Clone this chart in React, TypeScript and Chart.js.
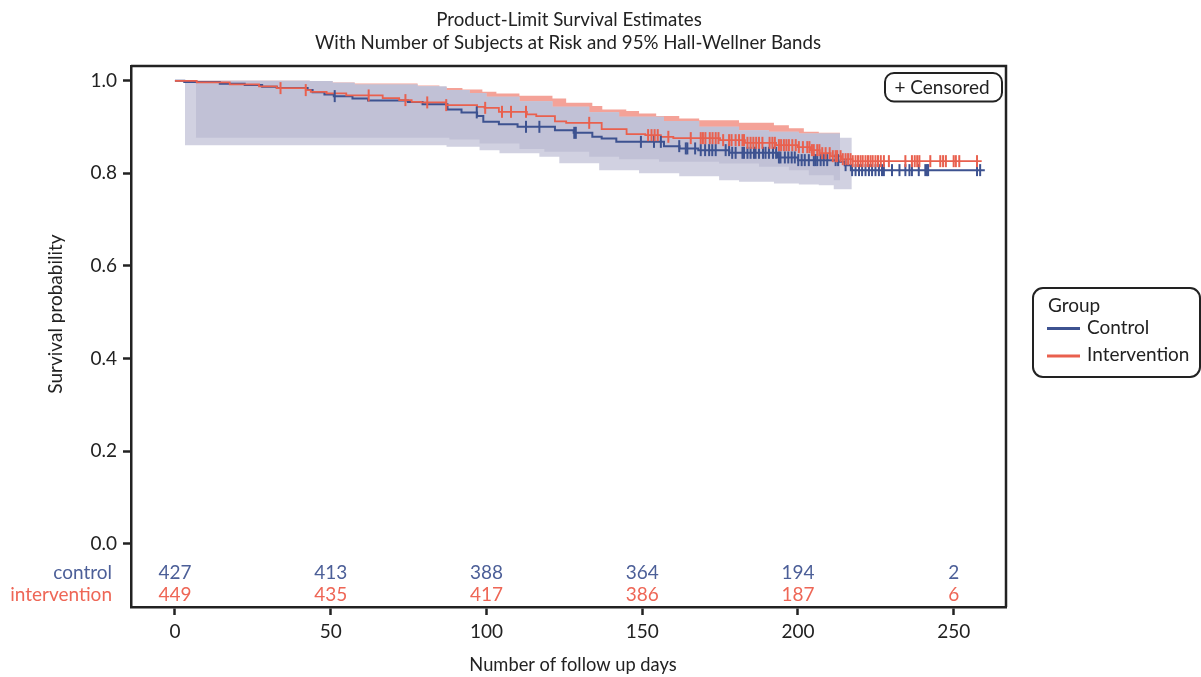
import React, { useEffect, useRef } from "react";
import { Chart, registerables } from "chart.js";
Chart.register(...registerables);

const FONT = "Lato, 'DejaVu Sans', sans-serif";
const FS = 19;
const INK = "#222222";
const CTRL = "#3d5290";
const INTV = "#e9604e";
const CTRL_TXT = "#4c5f98";
const INTV_TXT = "#ee6656";
const SALMON = "#f4a298";
const LAV_LIGHT = "#d1d1e1";
const LAV_DARK = "#c1c1d6";

// Kaplan-Meier step estimates
const ctrlTimes = [0, 3, 14.4, 22.4, 28, 32.7, 42.6, 44.2, 48, 51, 57, 62, 74.8, 79.5, 87.5, 92, 97, 99, 104, 110, 122, 128, 134, 137, 141.7, 157, 162, 168, 178, 193.6, 200, 213, 215, 217, 260];
const ctrlSurv = [1.0, 0.9972, 0.9935, 0.9907, 0.987, 0.9842, 0.9799, 0.9755, 0.9706, 0.9669, 0.962, 0.9576, 0.954, 0.9496, 0.9382, 0.9317, 0.9237, 0.9114, 0.9064, 0.9006, 0.8934, 0.8876, 0.879, 0.8755, 0.8681, 0.8588, 0.8539, 0.8502, 0.8444, 0.8344, 0.8286, 0.8249, 0.8177, 0.807, 0.807];
const intTimes = [0, 7, 17.6, 27, 32.7, 42, 43.6, 48.7, 55, 66.7, 72, 76, 79, 87, 97, 99.4, 104, 113, 116, 122, 125.6, 137, 145, 151, 156, 160, 175, 183, 193, 200, 204, 207, 210.5, 214, 217.5, 259];
const intSurv = [1.0, 0.9965, 0.9922, 0.9879, 0.9842, 0.9799, 0.9762, 0.9728, 0.9684, 0.9626, 0.9583, 0.9546, 0.9533, 0.9475, 0.9438, 0.9416, 0.933, 0.9274, 0.9237, 0.9122, 0.9092, 0.8956, 0.8848, 0.8826, 0.879, 0.8762, 0.8718, 0.866, 0.861, 0.8567, 0.8502, 0.8437, 0.8372, 0.8307, 0.8264, 0.8264];

// Hall-Wellner bands
const ctrlUpperT = [3.2, 43.3, 50.6, 57.7, 77.9, 87.2, 94.6, 100, 110.6, 121.2, 133, 142.6, 157, 168.3, 181.1, 190.7, 200.3, 213.5, 217.3];
const ctrlUpperS = [1.0, 0.9995, 0.9957, 0.9922, 0.9885, 0.9799, 0.9734, 0.9654, 0.9561, 0.9438, 0.9323, 0.9222, 0.9129, 0.9006, 0.8934, 0.8898, 0.8863, 0.8768, 0.8768];
const ctrlLowerT = [3.2, 87.2, 97.8, 104.2, 117, 123.4, 136.2, 149, 161.9, 174.7, 181.1, 192.3, 200.3, 206.7, 211.5, 217.3];
const ctrlLowerS = [0.861, 0.8573, 0.8502, 0.8437, 0.8357, 0.8221, 0.807, 0.8005, 0.794, 0.7853, 0.7817, 0.7782, 0.7761, 0.7745, 0.7659, 0.7659];
const intUpperT = [6.7, 43.3, 50.6, 57.7, 77.9, 84.9, 87.2, 92.3, 98.7, 103.2, 110.6, 121.2, 125.6, 134, 137.2, 144.9, 149, 154.5, 161.9, 168.3, 181.1, 192.3, 197.1, 201.9, 206.7, 213.5];
const intUpperS = [1.0, 0.9995, 0.9962, 0.994, 0.99, 0.987, 0.9842, 0.9814, 0.9762, 0.9728, 0.9676, 0.962, 0.9525, 0.9453, 0.9382, 0.9345, 0.9295, 0.9237, 0.9187, 0.915, 0.9092, 0.9042, 0.8977, 0.8898, 0.8876, 0.8876];
const intLowerT = [6.7, 88.1, 97.8, 110.6, 118.6, 133, 142.6, 155.4, 174.7, 187.5, 197.1, 203.5, 211.5, 213.5];
const intLowerS = [0.8768, 0.8733, 0.8647, 0.8524, 0.8465, 0.8357, 0.8307, 0.8249, 0.8214, 0.8141, 0.807, 0.7962, 0.7853, 0.7853];

// Censoring times
const ctrlCensor = [51.3, 96.9, 112.7, 117.0, 128.2, 128.7, 149.6, 153.8, 156.0, 161.9, 164.0, 164.5, 167.0, 168.8, 170.2, 171.5, 172.5, 173.6, 176.8, 177.9, 178.9, 180.0, 182.2, 182.7, 183.8, 184.8, 185.9, 186.4, 187.5, 188.8, 189.6, 190.7, 192.0, 193.0, 193.9, 194.4, 195.8, 196.9, 198.0, 199.0, 200.1, 201.2, 202.2, 203.5, 205.1, 205.6, 206.2, 207.3, 208.3, 209.4, 212.1, 212.9, 215.3, 217.4, 218.5, 219.6, 220.6, 221.7, 222.8, 223.8, 224.9, 226.0, 227.0, 227.6, 230.2, 232.6, 234.5, 235.8, 236.6, 238.8, 240.9, 241.4, 241.8, 257.5, 258.5];
const intCensor = [33.9, 42.0, 62.2, 74.0, 81.0, 87.1, 99.6, 105.0, 107.9, 112.7, 133.0, 151.9, 153.0, 154.0, 155.0, 158.4, 165.6, 168.8, 169.5, 170.3, 171.7, 172.6, 173.6, 174.5, 176.0, 177.9, 178.7, 180.0, 181.1, 182.2, 182.7, 183.8, 184.8, 185.7, 186.6, 187.5, 188.6, 190.9, 191.8, 192.6, 193.9, 194.6, 195.5, 196.3, 197.1, 198.2, 199.3, 200.3, 201.6, 203.0, 203.7, 204.5, 205.1, 206.2, 206.9, 207.8, 208.9, 210.2, 211.2, 212.1, 212.6, 213.7, 214.4, 215.3, 216.1, 216.9, 217.6, 218.5, 219.3, 220.1, 220.8, 221.7, 222.5, 223.3, 224.0, 224.9, 225.7, 226.6, 227.6, 229.2, 234.5, 236.6, 237.5, 238.3, 239.0, 242.5, 245.7, 246.6, 247.5, 250.0, 250.7, 251.8, 257.5];

// Number at risk
const riskTimes = [0, 50, 100, 150, 200, 250];
const riskControl = [427, 413, 388, 364, 194, 2];
const riskIntervention = [449, 435, 417, 386, 187, 6];

const xTicks = [0, 50, 100, 150, 200, 250];
const yTicks = [0, 0.2, 0.4, 0.6, 0.8, 1.0];

const groupLabels = ["Control", "Intervention"];
const riskLabels = ["control", "intervention"];

function stepAt(ts: number[], vs: number[], t: number) {
  let v = vs[0];
  for (let i = 0; i < ts.length; i++) {
    if (ts[i] <= t + 1e-9) v = vs[i];
    else break;
  }
  return v;
}
function pts(ts: number[], vs: number[]) {
  return ts.map((t, i) => ({ x: t, y: vs[i] }));
}
function grid(arrs: number[][], a: number, b: number) {
  const s = new Set<number>();
  arrs.forEach((arr) => arr.forEach((t) => { if (t >= a && t <= b) s.add(t); }));
  s.add(a); s.add(b);
  return Array.from(s).sort((p, q) => p - q);
}

function rrect(ctx: CanvasRenderingContext2D, x: number, y: number, w: number, h: number, r: number) {
  ctx.beginPath();
  ctx.moveTo(x + r, y);
  ctx.lineTo(x + w - r, y);
  ctx.arcTo(x + w, y, x + w, y + r, r);
  ctx.lineTo(x + w, y + h - r);
  ctx.arcTo(x + w, y + h, x + w - r, y + h, r);
  ctx.lineTo(x + r, y + h);
  ctx.arcTo(x, y + h, x, y + h - r, r);
  ctx.lineTo(x, y + r);
  ctx.arcTo(x, y, x + r, y, r);
  ctx.closePath();
}

const ROW_CTRL = -0.064;
const ROW_INT = -0.1115;

const decor = {
  id: "decor",
  afterDraw(chart: any) {
    const ctx: CanvasRenderingContext2D = chart.ctx;
    const ca = chart.chartArea;
    const xs = chart.scales.x;
    const ys = chart.scales.y;
    ctx.save();
    // top & right spines
    ctx.strokeStyle = INK;
    ctx.lineWidth = 2.5;
    ctx.beginPath();
    ctx.moveTo(ca.left, ca.top);
    ctx.lineTo(ca.right, ca.top);
    ctx.lineTo(ca.right, ca.bottom);
    ctx.stroke();

    ctx.fillStyle = INK;
    ctx.font = `18.7px ${FONT}`;
    ctx.textAlign = "center";
    ctx.textBaseline = "middle";
    ctx.fillText("Product-Limit Survival Estimates", 569, 20);
    ctx.fillText("With Number of Subjects at Risk and 95% Hall-Wellner Bands", 568, 43);
    ctx.font = `18.3px ${FONT}`;
    ctx.fillText("Number of follow up days", 573, 665);
    ctx.font = `${FS}px ${FONT}`;
    ctx.save();
    ctx.translate(56, 314);
    ctx.rotate(-Math.PI / 2);
    ctx.fillText("Survival probability", 0, 0);
    ctx.restore();

    // at-risk table
    const yc = ys.getPixelForValue(ROW_CTRL);
    const yi = ys.getPixelForValue(ROW_INT);
    riskTimes.forEach((t, i) => {
      const x = xs.getPixelForValue(t);
      ctx.fillStyle = CTRL_TXT;
      ctx.fillText(String(riskControl[i]), x, yc);
      ctx.fillStyle = INTV_TXT;
      ctx.fillText(String(riskIntervention[i]), x, yi);
    });
    ctx.textAlign = "right";
    ctx.fillStyle = CTRL_TXT;
    ctx.fillText(riskLabels[0], 112, yc);
    ctx.fillStyle = INTV_TXT;
    ctx.fillText(riskLabels[1], 112, yi);

    // censored box
    ctx.lineWidth = 2;
    ctx.strokeStyle = INK;
    ctx.fillStyle = "#ffffff";
    rrect(ctx, 885, 73, 117, 28.5, 9);
    ctx.fill();
    ctx.stroke();
    ctx.fillStyle = INK;
    ctx.textAlign = "center";
    ctx.fillText("+ Censored", 942, 87.5);

    // legend
    rrect(ctx, 1033, 288, 167, 89, 10);
    ctx.fillStyle = "#ffffff";
    ctx.fill();
    ctx.stroke();
    ctx.textAlign = "left";
    ctx.fillStyle = INK;
    ctx.fillText("Group", 1048, 306);
    const items = [
      { c: CTRL, y: 328.5 },
      { c: INTV, y: 356 },
    ];
    items.forEach((it, i) => {
      ctx.strokeStyle = it.c;
      ctx.lineWidth = 3;
      ctx.beginPath();
      ctx.moveTo(1047, it.y);
      ctx.lineTo(1080, it.y);
      ctx.stroke();
      ctx.fillStyle = INK;
      ctx.fillText(groupLabels[i], 1087, it.y - 1);
    });
    ctx.restore();
  },
};

export default function App() {
  const ref = useRef<HTMLCanvasElement | null>(null);
  useEffect(() => {
    document.body.style.margin = "0";
    const canvas = ref.current!;
    const cg = grid([ctrlUpperT, ctrlLowerT], ctrlUpperT[0], ctrlUpperT[ctrlUpperT.length - 1]);
    const ig = grid([intUpperT, intLowerT], intUpperT[0], intUpperT[intUpperT.length - 1]);
    const oa = Math.max(ctrlUpperT[0], intUpperT[0]);
    const ob = Math.min(ctrlUpperT[ctrlUpperT.length - 1], intUpperT[intUpperT.length - 1]);
    const og = grid([ctrlUpperT, ctrlLowerT, intUpperT, intLowerT], oa, ob);
    const cU = cg.map((t) => ({ x: t, y: stepAt(ctrlUpperT, ctrlUpperS, t) }));
    const cL = cg.map((t) => ({ x: t, y: stepAt(ctrlLowerT, ctrlLowerS, t) }));
    const iU = ig.map((t) => ({ x: t, y: stepAt(intUpperT, intUpperS, t) }));
    const iL = ig.map((t) => ({ x: t, y: stepAt(intLowerT, intLowerS, t) }));
    const oU = og.map((t) => ({ x: t, y: Math.min(stepAt(ctrlUpperT, ctrlUpperS, t), stepAt(intUpperT, intUpperS, t)) }));
    const oL = og.map((t) => ({ x: t, y: Math.max(stepAt(ctrlLowerT, ctrlLowerS, t), stepAt(intLowerT, intLowerS, t)) }));

    const band = (data: any[], order: number, fill: any, color: string) => ({
      data,
      order,
      stepped: true,
      borderColor: "rgba(0,0,0,0)",
      borderWidth: 1,
      pointRadius: 0,
      fill,
      backgroundColor: color,
    });

    const chart = new Chart(canvas, {
      type: "line",
      data: {
        datasets: [
          band(iU, 20, false, SALMON),
          band(iL, 19, 0, SALMON),
          band(cU, 18, false, LAV_LIGHT),
          band(cL, 17, 2, LAV_LIGHT),
          band(oU, 16, false, LAV_DARK),
          band(oL, 15, 4, LAV_DARK),
          {
            label: groupLabels[0],
            data: pts(ctrlTimes, ctrlSurv),
            order: 6,
            stepped: true,
            borderColor: CTRL,
            borderWidth: 2,
            pointRadius: 0,
            fill: false,
          },
          {
            label: groupLabels[1],
            data: pts(intTimes, intSurv),
            order: 5,
            stepped: true,
            borderColor: INTV,
            borderWidth: 1.8,
            pointRadius: 0,
            fill: false,
          },
          {
            data: ctrlCensor.map((t) => ({ x: t, y: stepAt(ctrlTimes, ctrlSurv, t) })),
            order: 4,
            showLine: false,
            pointStyle: "line",
            pointRotation: 90,
            pointRadius: 6,
            pointBorderWidth: 2,
            pointBorderColor: CTRL,
            pointBackgroundColor: CTRL,
            pointHoverRadius: 6,
          },
          {
            data: intCensor.map((t) => ({ x: t, y: stepAt(intTimes, intSurv, t) })),
            order: 3,
            showLine: false,
            pointStyle: "line",
            pointRotation: 90,
            pointRadius: 6,
            pointBorderWidth: 2,
            pointBorderColor: INTV,
            pointBackgroundColor: INTV,
            pointHoverRadius: 6,
          },
        ] as any,
      },
      options: {
        animation: false,
        responsive: false,
        maintainAspectRatio: false,
        events: [],
        layout: { padding: { top: 66, right: 195, left: 0, bottom: 0 } },
        plugins: {
          legend: { display: false },
          tooltip: { enabled: false },
          title: { display: false },
        },
        scales: {
          x: {
            type: "linear",
            min: -14.1,
            max: 266.8,
            afterBuildTicks: (s: any) => {
              s.ticks = xTicks.map((v) => ({ value: v }));
            },
            afterFit: (s: any) => {
              s.height = 70;
            },
            ticks: {
              autoSkip: false,
              maxRotation: 0,
              padding: 5,
              color: INK,
              font: { family: FONT, size: FS },
              callback: (v: any) => String(v),
            },
            grid: { drawOnChartArea: false, drawTicks: true, tickLength: 8, tickWidth: 2.5, tickColor: INK },
            border: { display: true, width: 2.5, color: INK },
          },
          y: {
            type: "linear",
            min: -0.137,
            max: 1.032,
            afterBuildTicks: (s: any) => {
              s.ticks = yTicks.map((v) => ({ value: v }));
            },
            afterFit: (s: any) => {
              s.width = 131;
            },
            ticks: {
              autoSkip: false,
              padding: 6,
              color: INK,
              font: { family: FONT, size: FS },
              callback: (v: any) => Number(v).toFixed(1),
            },
            grid: { drawOnChartArea: false, drawTicks: true, tickLength: 8, tickWidth: 2.5, tickColor: INK },
            border: { display: true, width: 2.5, color: INK },
          },
        },
      } as any,
      plugins: [decor],
    });
    return () => chart.destroy();
  }, []);
  return (
    <div style={{ width: 1201, height: 677, position: "relative" }}>
      <canvas ref={ref} width={1201} height={677} style={{ display: "block", width: 1201, height: 677 }} />
    </div>
  );
}
